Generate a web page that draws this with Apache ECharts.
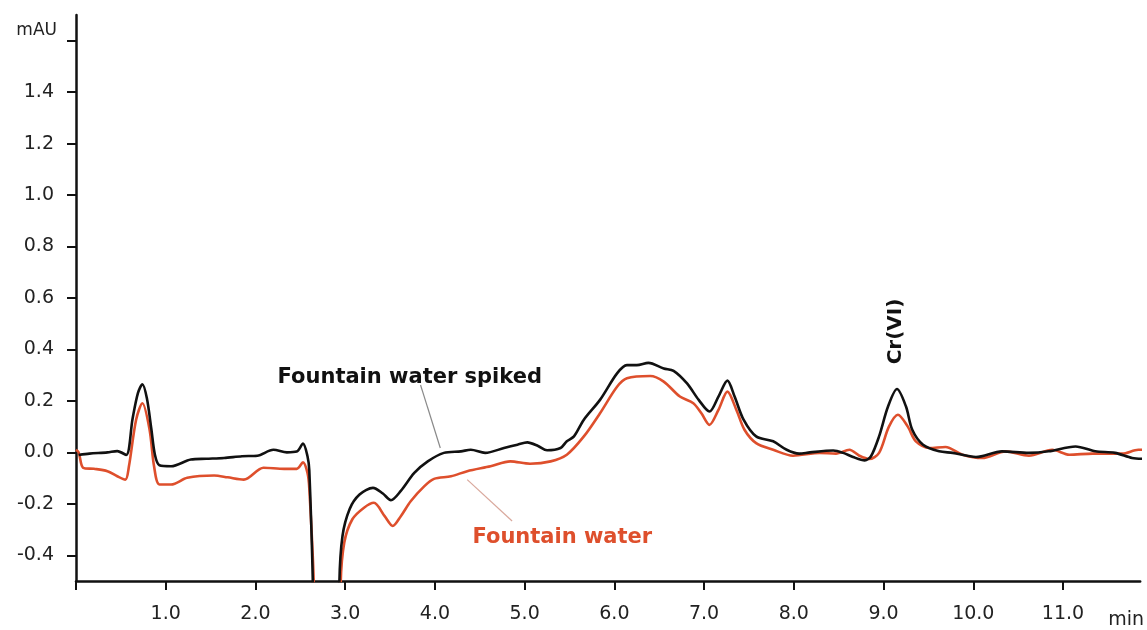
<!DOCTYPE html>
<html>
<head>
<meta charset="utf-8">
<script src="https://cdn.jsdelivr.net/npm/echarts@6/dist/echarts.min.js"></script>
<style>html,body{margin:0;padding:0;background:#fff}#c{width:1147px;height:630px}</style>
</head>
<body>
<div id="c"></div>
<script>
// Fountain water spiked (black)
const spikedTimes = [0.03,0.15,0.35,0.46,0.56,0.63,0.69,0.74,0.79,0.84,0.88,0.93,1.06,1.28,1.45,1.65,1.85,2.02,2.2,2.35,2.46,2.53,2.58,2.60,2.64,2.70,2.90,2.935,2.97,3.05,3.16,3.31,3.42,3.51,3.62,3.77,3.92,4.10,4.29,4.40,4.56,4.77,4.92,5.03,5.15,5.25,5.40,5.47,5.55,5.66,5.84,6.03,6.14,6.25,6.38,6.55,6.66,6.81,6.94,7.06,7.16,7.26,7.34,7.44,7.58,7.77,7.92,8.06,8.18,8.44,8.55,8.66,8.79,8.86,8.95,9.05,9.15,9.25,9.32,9.44,9.62,9.77,10.03,10.32,10.62,10.84,11.14,11.36,11.58,11.77,11.89];
const spikedValues = [-0.01,-0.005,0.0,0.005,-0.01,0.13,0.23,0.265,0.21,0.09,-0.01,-0.05,-0.054,-0.028,-0.025,-0.022,-0.015,-0.013,0.01,0.0,0.003,0.034,-0.015,-0.07,-0.51,-1.5,-1.5,-0.51,-0.325,-0.22,-0.164,-0.138,-0.16,-0.186,-0.15,-0.08,-0.035,-0.002,0.004,0.01,-0.002,0.017,0.03,0.039,0.025,0.008,0.017,0.043,0.062,0.127,0.204,0.307,0.339,0.339,0.348,0.326,0.317,0.268,0.204,0.159,0.217,0.279,0.217,0.127,0.062,0.043,0.01,-0.005,0.0,0.007,-0.002,-0.018,-0.031,-0.015,0.062,0.178,0.246,0.178,0.088,0.03,0.004,-0.002,-0.018,0.004,-0.002,0.004,0.023,0.004,-0.002,-0.022,-0.025];
// Fountain water (red)
const waterTimes = [0.0,0.03,0.08,0.2,0.35,0.46,0.55,0.59,0.67,0.74,0.82,0.87,0.93,1.06,1.24,1.54,1.69,1.87,2.09,2.32,2.46,2.53,2.58,2.60,2.65,2.71,2.91,2.95,2.99,3.08,3.21,3.32,3.44,3.53,3.62,3.73,3.88,3.99,4.18,4.36,4.62,4.84,5.06,5.29,5.47,5.66,5.84,6.03,6.14,6.40,6.55,6.73,6.88,6.97,7.06,7.16,7.26,7.36,7.45,7.58,7.77,7.99,8.29,8.47,8.62,8.73,8.84,8.95,9.06,9.16,9.27,9.36,9.51,9.69,9.88,10.10,10.36,10.62,10.88,11.07,11.33,11.66,11.84,11.89];
const waterValues = [0.01,0.0,-0.06,-0.064,-0.073,-0.093,-0.106,-0.054,0.127,0.191,0.088,-0.054,-0.125,-0.125,-0.099,-0.09,-0.097,-0.106,-0.06,-0.064,-0.064,-0.039,-0.08,-0.14,-0.51,-1.5,-1.5,-0.51,-0.35,-0.26,-0.215,-0.196,-0.248,-0.286,-0.248,-0.19,-0.132,-0.103,-0.093,-0.073,-0.054,-0.035,-0.044,-0.035,-0.009,0.062,0.152,0.255,0.288,0.297,0.275,0.217,0.191,0.152,0.107,0.165,0.236,0.165,0.088,0.036,0.01,-0.013,-0.002,-0.005,0.01,-0.013,-0.026,-0.002,0.1,0.146,0.1,0.043,0.017,0.021,-0.009,-0.022,0.004,-0.013,0.01,-0.009,-0.005,-0.005,0.01,0.01];
const yTickValues = [-0.4,-0.2,0.0,0.2,0.4,0.6,0.8,1.0,1.2,1.4,1.6];
const yLabelValues = [-0.4,-0.2,0.0,0.2,0.4,0.6,0.8,1.0,1.2,1.4];
const xTickValues = [0,1,2,3,4,5,6,7,8,9,10,11];
const xLabelValues = [1,2,3,4,5,6,7,8,9,10,11];

const zip = (a, b) => a.map((t, i) => [t, b[i]]);
const chart = echarts.init(document.getElementById('c'), null, {renderer: 'canvas'});
const FONT = 'DejaVu Sans';
const axisCommon = {
  axisLine: {show: true, onZero: false, lineStyle: {color: '#111', width: 2.5}},
  splitLine: {show: false}
};
chart.setOption({
  animation: false,
  backgroundColor: '#fff',
  grid: {left: 76, right: 0, top: 15, bottom: 47, containLabel: false},
  xAxis: Object.assign({
    type: 'value', min: 0, max: 11.86, interval: 1,
    name: 'min', nameLocation: 'end', nameGap: -32,
    nameTextStyle: {fontFamily: FONT, fontSize: 19, color: '#222', align: 'left', verticalAlign: 'top', padding: [30, 0, 0, 0]},
    axisTick: {show: true, length: 9, customValues: xTickValues, lineStyle: {color: '#111', width: 2}},
    axisLabel: {customValues: xLabelValues, margin: 24, fontFamily: FONT, fontSize: 19, color: '#222',
      formatter: v => v.toFixed(1)}
  }, axisCommon),
  yAxis: Object.assign({
    type: 'value', min: -0.5, max: 1.7,
    name: 'mAU', nameLocation: 'end', nameGap: -16,
    nameTextStyle: {fontFamily: FONT, fontSize: 17, color: '#222', align: 'right', verticalAlign: 'middle', padding: [0, 19, 0, 0]},
    axisTick: {show: true, length: 9, customValues: yTickValues, lineStyle: {color: '#111', width: 2}},
    axisLabel: {customValues: yLabelValues, margin: 22, fontFamily: FONT, fontSize: 19, color: '#222',
      formatter: v => v.toFixed(1)}
  }, axisCommon),
  series: [
    {
      name: 'Fountain water', type: 'line', data: zip(waterTimes, waterValues),
      showSymbol: false, smooth: 0.3, clip: true,
      lineStyle: {color: '#de4f2c', width: 2.6},
      markLine: {
        silent: true, symbol: 'none', label: {show: false},
        lineStyle: {color: '#d9a89c', width: 1.2, type: 'solid'},
        data: [[{coord: [4.36, -0.106]}, {coord: [4.86, -0.267]}]]
      },
      markPoint: {
        symbol: 'circle', symbolSize: 0,
        label: {show: true, formatter: '{b}', fontFamily: FONT, fontWeight: 'bold', fontSize: 21, color: '#de4f2c'},
        data: [{name: 'Fountain water', coord: [5.42, -0.33]}]
      }
    },
    {
      name: 'Fountain water spiked', type: 'line', data: zip(spikedTimes, spikedValues),
      showSymbol: false, smooth: 0.3, clip: true,
      lineStyle: {color: '#111', width: 2.6},
      markLine: {
        silent: true, symbol: 'none', label: {show: false},
        lineStyle: {color: '#8a8a8a', width: 1.2, type: 'solid'},
        data: [[{coord: [3.84, 0.262]}, {coord: [4.06, 0.017]}]]
      },
      markPoint: {
        symbol: 'circle', symbolSize: 0,
        label: {show: true, formatter: '{b}', fontFamily: FONT, fontWeight: 'bold', fontSize: 21, color: '#111'},
        data: [
          {name: 'Fountain water spiked', coord: [3.72, 0.29]},
          {name: 'Cr(VI)', coord: [9.14, 0.47], label: {rotate: 90, fontSize: 20}}
        ]
      }
    }
  ]
});
</script>
</body>
</html>
